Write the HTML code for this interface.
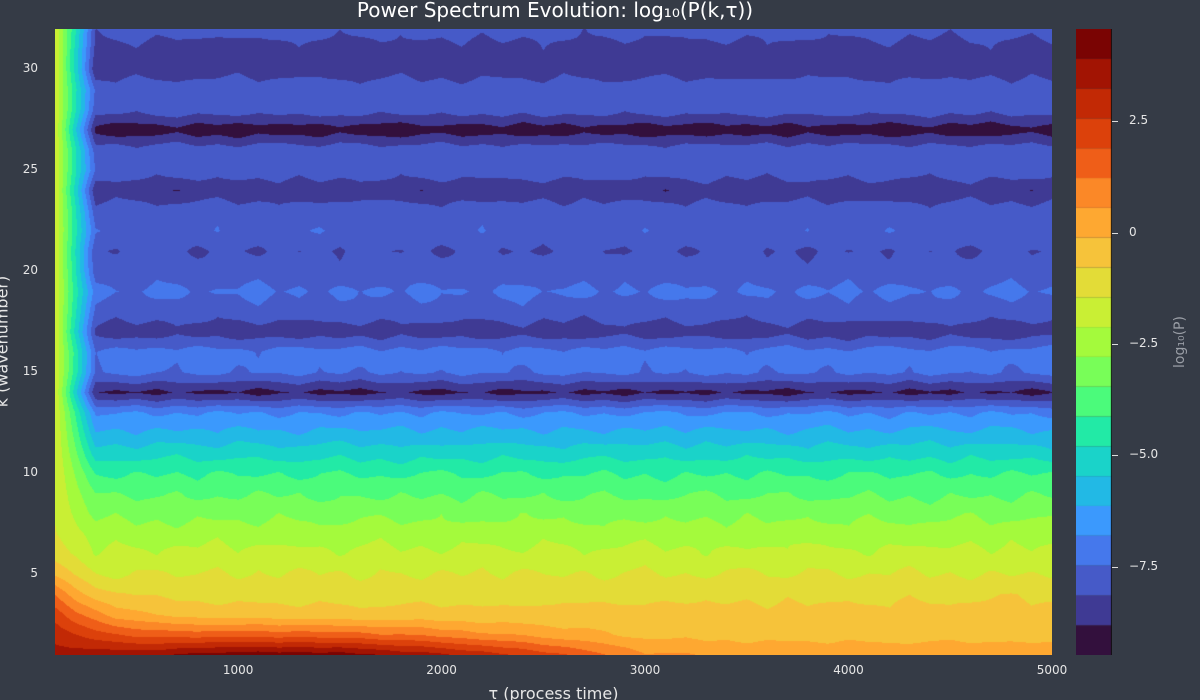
<!DOCTYPE html>
<html><head><meta charset="utf-8">
<style>
html,body{margin:0;padding:0;background:#353b46;}
#wrap{position:relative;width:1200px;height:700px;background:#353b46;overflow:hidden;font-family:"DejaVu Sans","Liberation Sans",sans-serif;}
canvas{position:absolute;}
.t{position:absolute;color:#e6e6e6;font-size:12px;white-space:nowrap;}
</style></head>
<body>
<div id="wrap">
<div class="t" style="left:0;width:1110px;top:-2px;text-align:center;font-size:20px;color:#ffffff;">Power Spectrum Evolution: log₁₀(P(k,τ))</div>
<canvas id="plot" width="997" height="626" style="left:55px;top:29px;"></canvas>
<canvas id="cbar" width="36" height="626" style="left:1076px;top:29px;"></canvas>
<div class="t" style="left:0;width:1107px;top:684px;text-align:center;font-size:16px;">τ (process time)</div>
<div class="t" style="left:-68px;top:332px;width:140px;text-align:center;font-size:16px;transform:rotate(-90deg);">k (wavenumber)</div>
<div class="t" style="left:1140px;top:334px;width:80px;text-align:center;font-size:14px;color:#9a9ea6;transform:rotate(-90deg);">log₁₀(P)</div>
<div id="axes"></div>
</div>
<script>
// ---- data ----
const kBase = [0.3,-0.3,-0.7,-1.0,-1.45,-1.95,-2.45,-3.0,-3.58,-4.2,-5.1,-6.0,-6.85,-8.95,-7.4,-7.25,-8.5,-7.8,-7.4,-7.85,-8.1,-7.65,-7.8,-8.6,-7.8,-7.75,-9.2,-7.8,-7.75,-8.5,-8.4,-7.9];
const leftCol = [3.5,3.0,2.3,1.2,-0.2,-1.1,-1.4,-1.5,-1.5,-1.5,-1.5,-1.5,-1.5,-1.5,-1.5,-1.5,-1.5,-1.5,-1.5,-1.5,-1.5,-1.5,-1.5,-1.5,-1.5,-1.5,-1.5,-1.5,-1.5,-1.5,-1.5,-1.5];
const tauS = [100,200,300,400,600,800,1000,1250,1500,1750,2000,2500,3000,3500,4000,4500,5000];
const rowK1 = [3.5,3.55,3.6,3.7,3.8,4.1,4.3,4.3,4.2,3.8,3.4,2.2,0.7,0.4,0.3,0.3,0.3];
const rowK2 = [3.0,2.6,2.2,1.9,1.6,1.6,1.6,1.55,1.5,1.3,1.0,0.3,-0.3,-0.35,-0.35,-0.35,-0.35];
const rowK3 = [2.3,1.4,0.8,0.3,-0.2,-0.4,-0.5,-0.55,-0.6,-0.6,-0.6,-0.6,-0.6,-0.65,-0.65,-0.65,-0.65];
const rowK4 = [1.2,0.2,-0.4,-0.7,-0.9,-1.0,-1.0,-1.0,-1.0,-1.0,-1.0,-1.0,-0.9,-0.9,-0.9,-0.85,-0.85];
const colJit = [0.3,-0.5,0.8,-0.2,0.1,-0.9,0.4,0.6,-0.3,0.0,0.7,-0.6,0.2,-0.4,0.9,-0.1,0.5,-0.8,0.3,0.1,-0.7,0.6,-0.2,0.4,-0.5,0.8,0.0,-0.3,0.5,-0.9,0.2,0.7,-0.4,0.1,-0.6,0.3,0.9,-0.2,-0.5,0.4,0.6,-0.7,0.1,-0.1,0.8,-0.4,0.2,-0.8,0.5,-0.3];
const levelMin = -9.48, levelStep = 0.669;
const bandColors = ["#33103d","#3f3a94","#465ac8","#4578ec","#3b99fd","#22b9e5","#1ad3c9","#22eaa6","#4bfb7b","#78fe58","#a4fa3c","#c9ef34","#e3dc37","#f6c33a","#fea831","#fb8827","#ef5e18","#dc410b","#c22905","#a21403","#7a0403"];
const xTicks = [1000,2000,3000,4000,5000];
const yTicks = [5,10,15,20,25,30];
const cTicks = [2.5,0,-2.5,-5.0,-7.5];
const cTickLabels = ["2.5","0","−2.5","−5.0","−7.5"];

// ---- axes ----
const X0=55,X1=1052,Y0=29,Y1=655, TMIN=100,TMAX=5000,KMIN=1,KMAX=32;
const xs = t => X0 + (t-TMIN)/(TMAX-TMIN)*(X1-X0);
const ys = k => Y1 - (k-KMIN)/(KMAX-KMIN)*(Y1-Y0);
const CB0=29,CB1=655, VMIN=levelMin, VMAX=levelMin+levelStep*bandColors.length;
const cs = v => CB1 - (v-VMIN)/(VMAX-VMIN)*(CB1-CB0);

function interpArr(xsArr, arr, x){
  if(x<=xsArr[0]) return arr[0];
  for(let i=1;i<xsArr.length;i++){ if(x<=xsArr[i]){const f=(x-xsArr[i-1])/(xsArr[i]-xsArr[i-1]);return arr[i-1]+f*(arr[i]-arr[i-1]);} }
  return arr[arr.length-1];
}
const rows=[rowK1,rowK2,rowK3,rowK4];
const NT=50;
const grid=[];
for(let ki=0;ki<32;ki++){
  const r=[];
  for(let ti=0;ti<NT;ti++){
    const tau=100*(ti+1);
    let v;
    if(ki<4) v=interpArr(tauS,rows[ki],tau);
    else if(tau<300){const w=(300-tau)/200; v=w*leftCol[ki]+(1-w)*kBase[ki];}
    else v=kBase[ki];
    if(ti>=2){ const amp = ki<4?0.12:0.3; v += amp*colJit[(ti+ki*13)%NT]; }
    r.push(v);
  }
  grid.push(r);
}
function hex(c){return [parseInt(c.substr(1,2),16),parseInt(c.substr(3,2),16),parseInt(c.substr(5,2),16)];}
const rgb=bandColors.map(hex);
function band(v){let b=Math.floor((v-levelMin)/levelStep);return Math.max(0,Math.min(bandColors.length-1,b));}

// ---- draw contour field ----
const pc=document.getElementById('plot'), ctx=pc.getContext('2d');
const W=pc.width,H=pc.height, img=ctx.createImageData(W,H);
for(let py=0;py<H;py++){
  const k=KMIN+(Y1-(Y0+py+0.5))/(Y1-Y0)*(KMAX-KMIN);
  let kf=k-1; let k0=Math.max(0,Math.min(30,Math.floor(kf))); let fk=Math.max(0,Math.min(1,kf-k0));
  for(let px=0;px<W;px++){
    const tau=TMIN+(px+0.5)/(X1-X0)*(TMAX-TMIN);
    let tf=tau/100-1; let t0=Math.max(0,Math.min(NT-2,Math.floor(tf))); let ft=Math.max(0,Math.min(1,tf-t0));
    const v=(grid[k0][t0]*(1-ft)+grid[k0][t0+1]*ft)*(1-fk)+(grid[k0+1][t0]*(1-ft)+grid[k0+1][t0+1]*ft)*fk;
    const c=rgb[band(v)]; const i=(py*W+px)*4;
    img.data[i]=c[0];img.data[i+1]=c[1];img.data[i+2]=c[2];img.data[i+3]=255;
  }
}
ctx.putImageData(img,0,0);

// ---- colorbar ----
const cc=document.getElementById('cbar').getContext('2d');
bandColors.forEach((col,i)=>{
  const yTop=cs(levelMin+levelStep*(i+1))-CB0, yBot=cs(levelMin+levelStep*i)-CB0;
  cc.fillStyle=col; cc.fillRect(0,yTop,36,yBot-yTop);
});
cc.fillStyle="#111"; cc.fillRect(35,0,1,626);

// ---- tick labels ----
const axes=document.getElementById('axes');
xTicks.forEach(t=>{
  const d=document.createElement('div'); d.className='t';
  
  
  d.style.left=(xs(t)-30)+'px'; d.style.width='60px'; d.style.textAlign='center'; d.style.top='663px';
  d.textContent=t; axes.appendChild(d);
});
yTicks.forEach(k=>{
  const d=document.createElement('div'); d.className='t';
  
  
  d.style.left='0px'; d.style.width='38px'; d.style.textAlign='right'; d.style.top=(ys(k)-8)+'px';
  d.textContent=k; axes.appendChild(d);
});
cTicks.forEach((v,i)=>{
  const m=document.createElement('div');
  
  
  m.style.cssText='position:absolute;left:1112px;width:6px;height:1px;background:#ddd;top:'+cs(v)+'px';
  axes.appendChild(m);
  const d=document.createElement('div'); d.className='t';
  
  
  d.style.left='1129px'; d.style.top=(cs(v)-8)+'px';
  d.textContent=cTickLabels[i]; axes.appendChild(d);
});
</script>
</body></html>
